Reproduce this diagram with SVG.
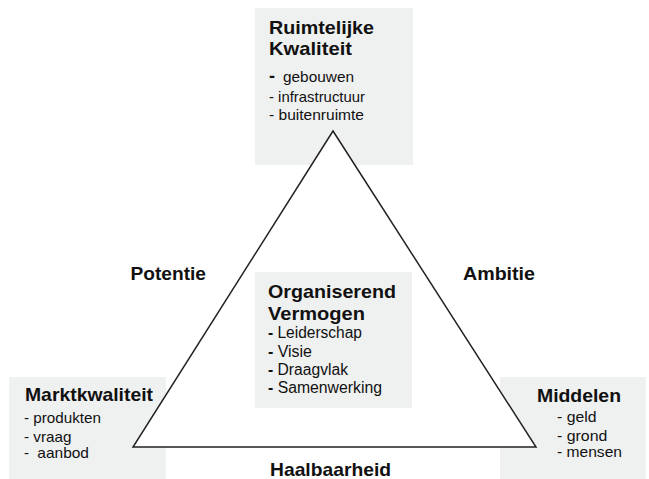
<svg xmlns="http://www.w3.org/2000/svg" width="649" height="479" viewBox="0 0 649 479">
  <style>
    .box { fill: #eff0f0; stroke: none; }
    .title { font-family: "Liberation Sans", Arial, sans-serif; font-weight: bold; font-size: 19px; fill: #111; }
    .item { font-family: "Liberation Sans", Arial, sans-serif; font-size: 15px; fill: #111; }
    .item-lg { font-family: "Liberation Sans", Arial, sans-serif; font-size: 16px; fill: #111; }
    .dash { font-weight: bold; }
    .edge { fill: #ffffff; stroke: #222; stroke-width: 1.5; stroke-linejoin: miter; }
  </style>
  <rect width="649" height="479" fill="#ffffff"/>

  <!-- corner and centre panels -->
  <g id="ruimtelijke-kwaliteit">
    <rect class="box" x="255" y="8" width="158" height="157"/>
  </g>
  <g id="marktkwaliteit">
    <rect class="box" x="9" y="377" width="157" height="102"/>
  </g>
  <g id="middelen">
    <rect class="box" x="500" y="377" width="146" height="102"/>
  </g>

  <!-- triangle linking the three qualities -->
  <g id="connectors">
    <polygon class="edge" points="333,131 133,447 536,447"/>
  </g>

  <g id="organiserend-vermogen">
    <rect class="box" x="255" y="272" width="157" height="136"/>
    <text class="title" x="268" y="298" textLength="128" lengthAdjust="spacingAndGlyphs">Organiserend</text>
    <text class="title" x="268" y="319.5" textLength="97" lengthAdjust="spacingAndGlyphs">Vermogen</text>
    <text class="item-lg" x="268" y="338" textLength="94" lengthAdjust="spacingAndGlyphs"><tspan class="dash">-</tspan> Leiderschap</text>
    <text class="item-lg" x="268" y="356.5" textLength="44" lengthAdjust="spacingAndGlyphs"><tspan class="dash">-</tspan> Visie</text>
    <text class="item-lg" x="268" y="375" textLength="80" lengthAdjust="spacingAndGlyphs"><tspan class="dash">-</tspan> Draagvlak</text>
    <text class="item-lg" x="268" y="393.3" textLength="114" lengthAdjust="spacingAndGlyphs"><tspan class="dash">-</tspan> Samenwerking</text>
  </g>

  <!-- panel texts -->
  <g id="ruimtelijke-kwaliteit-text">
    <text class="title" x="269" y="33.5" textLength="105" lengthAdjust="spacingAndGlyphs">Ruimtelijke</text>
    <text class="title" x="269" y="55" textLength="83" lengthAdjust="spacingAndGlyphs">Kwaliteit</text>
    <text class="item" x="269" y="82"><tspan class="dash" font-size="18">-</tspan><tspan x="283" textLength="71" lengthAdjust="spacingAndGlyphs">gebouwen</tspan></text>
    <text class="item" x="269" y="101.5" textLength="96" lengthAdjust="spacingAndGlyphs">- infrastructuur</text>
    <text class="item" x="269" y="120" textLength="95" lengthAdjust="spacingAndGlyphs">- buitenruimte</text>
  </g>

  <g id="marktkwaliteit-text">
    <text class="title" x="25" y="401" textLength="128" lengthAdjust="spacingAndGlyphs">Marktkwaliteit</text>
    <text class="item" x="24" y="423" textLength="77" lengthAdjust="spacingAndGlyphs">- produkten</text>
    <text class="item" x="24" y="441.5" textLength="47.5" lengthAdjust="spacingAndGlyphs">- vraag</text>
    <text class="item" x="24" y="458"><tspan>-</tspan><tspan x="37.3" textLength="51.7" lengthAdjust="spacingAndGlyphs">aanbod</tspan></text>
  </g>

  <g id="middelen-text">
    <text class="title" x="537" y="402" textLength="84" lengthAdjust="spacingAndGlyphs">Middelen</text>
    <text class="item" x="557" y="422" textLength="39.5" lengthAdjust="spacingAndGlyphs">- geld</text>
    <text class="item" x="557" y="440.7" textLength="50.3" lengthAdjust="spacingAndGlyphs">- grond</text>
    <text class="item" x="557" y="457.3" textLength="65" lengthAdjust="spacingAndGlyphs">- mensen</text>
  </g>

  <!-- side labels of the triangle -->
  <g id="potentie">
    <text class="title" x="130.5" y="280" textLength="75.5" lengthAdjust="spacingAndGlyphs">Potentie</text>
  </g>
  <g id="ambitie">
    <text class="title" x="463" y="280" textLength="72" lengthAdjust="spacingAndGlyphs">Ambitie</text>
  </g>
  <g id="haalbaarheid">
    <text class="title" x="270" y="475.5" textLength="121" lengthAdjust="spacingAndGlyphs">Haalbaarheid</text>
  </g>
</svg>
